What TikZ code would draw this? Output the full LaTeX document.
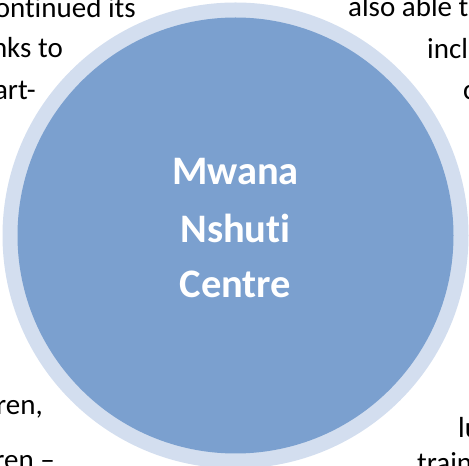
\documentclass[tikz,border=0pt]{standalone}
\usepackage{fontspec}
\setmainfont{Carlito}[Ligatures={NoCommon,TeX}]
\definecolor{ringblue}{HTML}{D3DEEF}
\definecolor{fillblue}{HTML}{7BA0CF}
\begin{document}
\begin{tikzpicture}[x=1pt,y=1pt,
  bodytext/.style={font=\fontsize{29}{34}\selectfont, text=black, inner sep=0pt},
  titletext/.style={font=\fontsize{40.5}{48}\selectfont\bfseries, text=white, inner sep=0pt, anchor=base}]
\useasboundingbox (0,0) rectangle (469,466);
\clip (0,0) rectangle (469,466);
% outer text fragments (clipped by the page)
\node[bodytext, anchor=base east] (t1) at (136,448) {continued its};
\node[bodytext, anchor=base east] (t2) at (63,408) {thanks to};
\node[bodytext, anchor=base east] (t3) at (36,366) {smart-};
\node[bodytext, anchor=base west] (t4) at (348,449) {also able to};
\node[bodytext, anchor=base west] (t5) at (427,407) {including};
\node[bodytext, anchor=base west] (t6) at (463,366) {c};
\node[bodytext, anchor=base east] (t7) at (43,51) {children,};
\node[bodytext, anchor=base east] (t8) at (55,-4) {children –};
\node[bodytext, anchor=base west] (t9) at (458,28) {lu};
\node[bodytext, anchor=base west] (t10) at (417,-7) {training};
% circle
\node[circle, fill=ringblue, minimum size=466pt, inner sep=0pt] (ring) at (235.5,230.5) {};
\node[circle, fill=fillblue, minimum size=436pt, inner sep=0pt] (disc) at (ring.center) {};
% title
\node[titletext] (l1) at (235.5,281) {Mwana};
\node[titletext] (l2) at (235.5,223) {Nshuti};
\node[titletext] (l3) at (235.5,168) {Centre};
\end{tikzpicture}
\end{document}
